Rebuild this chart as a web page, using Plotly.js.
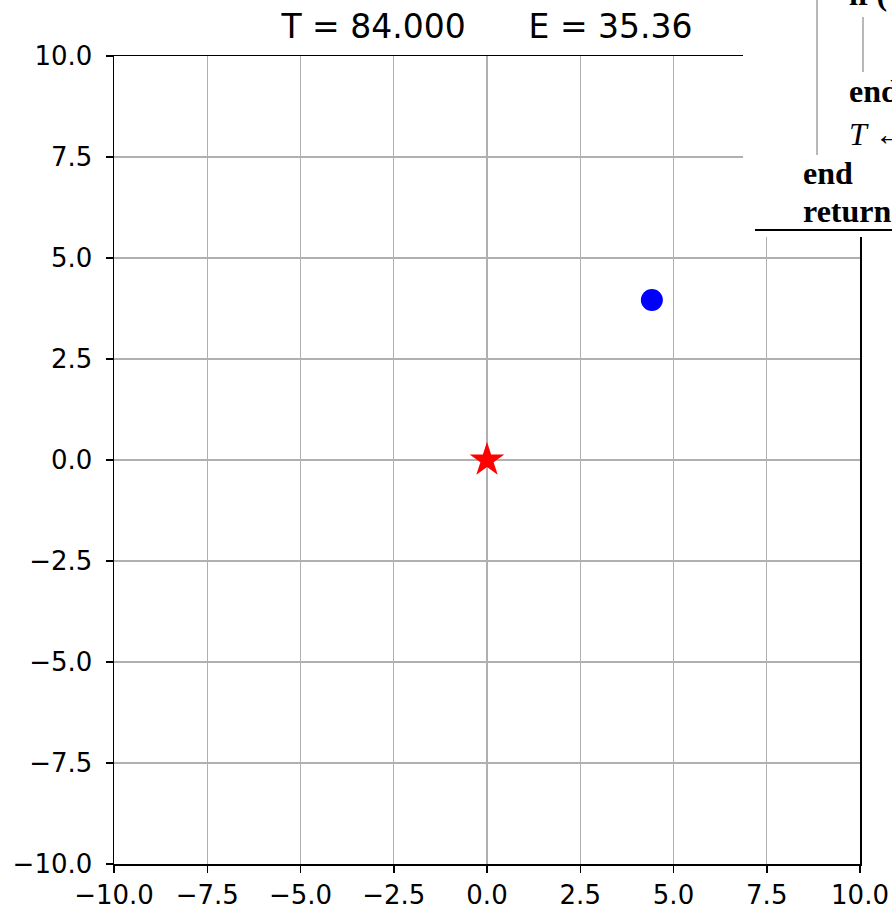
<!DOCTYPE html>
<html>
<head>
<meta charset="utf-8">
<script src="https://cdn.plot.ly/plotly-3.0.1.min.js"></script>
<style>html,body{margin:0;padding:0;background:#fff;}#plot{width:892px;height:910px;}</style>
</head>
<body>
<div id="plot"></div>
<script>
// Data
var starX = [0.0];
var starY = [0.0];
var dotX = [4.42];
var dotY = [3.96];
var temperature = "84.000";
var energy = "35.36";
var tickVals = [-10, -7.5, -5, -2.5, 0, 2.5, 5, 7.5, 10];
var axisRange = [-10, 10];

// pixel helpers for overlay (plot area: x 114..860, y 56..864)
var L = 114, R = 860, T = 56, B = 864;
function px(x) { return (x - L) / (R - L); }
function py(y) { return (B - y) / (B - T); }

var NB = "\u00A0";
var titleText = "T = " + temperature + NB.repeat(6) + "E = " + energy;

var traces = [
  {x: dotX, y: dotY, type: "scatter", mode: "markers",
   marker: {color: "#0000ff", size: 22, line: {width: 0}}, hoverinfo: "none"},
  {x: starX, y: starY, type: "scatter", mode: "markers",
   marker: {color: "#ff0000", symbol: "star", size: 26, line: {width: 0}}, hoverinfo: "none"}
];

var axisCommon = {
  range: axisRange, tickvals: tickVals, tickformat: ".1f",
  showgrid: true, gridcolor: "#b0b0b0", gridwidth: 1.3,
  zeroline: false, showline: true, linecolor: "#000", linewidth: 1.5, mirror: true,
  ticks: "outside", ticklen: 7, tickwidth: 1.5, tickcolor: "#000",
  tickfont: {family: "DejaVu Sans", size: 26, color: "#000"}
};

var serifB = {family: "Liberation Serif", size: 32, color: "#000", weight: "bold"};
var serifI = {family: "Liberation Serif", size: 32, color: "#000", style: "italic"};

function ann(text, x, baseline, font) {
  return {text: text, xref: "paper", yref: "paper", x: px(x), y: py(baseline - 11),
          xanchor: "left", yanchor: "middle", showarrow: false, font: font, borderpad: 0};
}

var layout = {
  width: 892, height: 910,
  margin: {l: L, r: 892 - R, t: T, b: 910 - B},
  paper_bgcolor: "#fff", plot_bgcolor: "#fff",
  showlegend: false,
  title: {text: titleText, x: 0.5, xref: "paper", xanchor: "center",
          y: 1 - 38 / 910, yref: "container", yanchor: "bottom",
          font: {family: "DejaVu Sans", size: 33, color: "#000"}},
  xaxis: Object.assign({}, axisCommon),
  yaxis: Object.assign({}, axisCommon, {ticklabelstandoff: 8}),
  shapes: [
    {type: "rect", xref: "paper", yref: "paper", x0: px(743), x1: px(900), y0: py(237), y1: py(-5),
     fillcolor: "#fff", line: {width: 0}, layer: "above"},
    {type: "line", xref: "paper", yref: "paper", x0: px(817), x1: px(817), y0: py(0), y1: py(155),
     line: {color: "#a0a0a0", width: 1.5}, layer: "above"},
    {type: "line", xref: "paper", yref: "paper", x0: px(863), x1: px(863), y0: py(17), y1: py(72),
     line: {color: "#a0a0a0", width: 1.5}, layer: "above"},
    {type: "line", xref: "paper", yref: "paper", x0: px(755), x1: px(900), y0: py(230), y1: py(230),
     line: {color: "#000", width: 2}, layer: "above"}
  ],
  annotations: [
    ann("if (", 848, 5, serifB),
    ann("end", 848, 102, serifB),
    ann("T ← αT", 848, 145, serifI),
    ann("end", 802, 184, serifB),
    ann("return", 802, 222, serifB)
  ]
};

Plotly.newPlot("plot", traces, layout, {staticPlot: true, displayModeBar: false});
</script>
</body>
</html>
